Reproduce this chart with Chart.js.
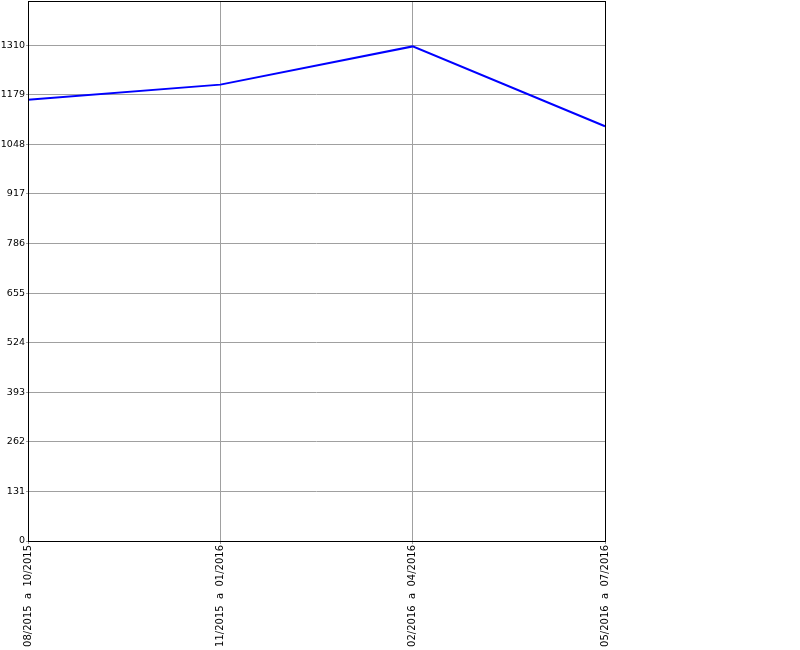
<!DOCTYPE html>
<html>
<head>
<meta charset="utf-8">
<script src="https://cdn.jsdelivr.net/npm/chart.js@4/dist/chart.umd.min.js"></script>
<style>
  html, body { margin: 0; padding: 0; background: #fff; }
  #wrap { width: 800px; height: 650px; }
</style>
</head>
<body>
<div id="wrap"><canvas id="lineChart" width="800" height="650"></canvas></div>
<script>
// Data
const periods = ['08/2015  a  10/2015', '11/2015  a  01/2016', '02/2016  a  04/2016', '05/2016  a  07/2016'];
const totals = [1166, 1206, 1307, 1096];
const yTicks = [0, 131, 262, 393, 524, 655, 786, 917, 1048, 1179, 1310];
const yMax = 1427;

const gridColor = '#a0a0a0';

// box around the plot area
const frame = {
    id: 'frame',
    afterDraw(chart) {
        const a = chart.chartArea;
        const c = chart.ctx;
        c.save();
        c.strokeStyle = '#000';
        c.lineWidth = 1;
        c.strokeRect(Math.round(a.left) + 0.5, Math.round(a.top) + 0.5,
            Math.round(a.right - a.left), Math.round(a.bottom - a.top));
        c.restore();
    }
};

new Chart(document.getElementById('lineChart').getContext('2d'), {
    type: 'line',
    data: {
        labels: periods,
        datasets: [{
            data: totals,
            borderColor: '#0000ff',
            borderWidth: 2,
            pointRadius: 0,
            tension: 0,
            fill: false
        }]
    },
    options: {
        responsive: false,
        animation: false,
        layout: { padding: { top: 1, right: 195, left: 0, bottom: 0 } },
        plugins: { legend: { display: false }, tooltip: { enabled: false } },
        scales: {
            x: {
                offset: false,
                grid: { color: gridColor, tickLength: 3 },
                border: { display: false },
                ticks: {
                    color: '#000', font: { family: 'DejaVu Sans', size: 10 }, padding: 1,
                    maxRotation: 90, minRotation: 90, autoSkip: false
                },
                afterFit(s) {
                    s.height = 109;
                    s.paddingLeft = 0;
                    s.paddingRight = 0;
                }
            },
            y: {
                min: 0,
                max: yMax,
                grid: { color: gridColor, tickLength: 2 },
                border: { display: false },
                ticks: {
                    color: '#000', font: { family: 'DejaVu Sans', size: 9.5 }, padding: 1,
                    callback: v => String(v)
                },
                afterBuildTicks(s) {
                    s.ticks = yTicks.map(v => ({ value: v }));
                },
                afterFit(s) {
                    s.width = 28;
                    s.paddingTop = 0;
                    s.paddingBottom = 0;
                }
            }
        }
    },
    plugins: [frame]
});
</script>
</body>
</html>
